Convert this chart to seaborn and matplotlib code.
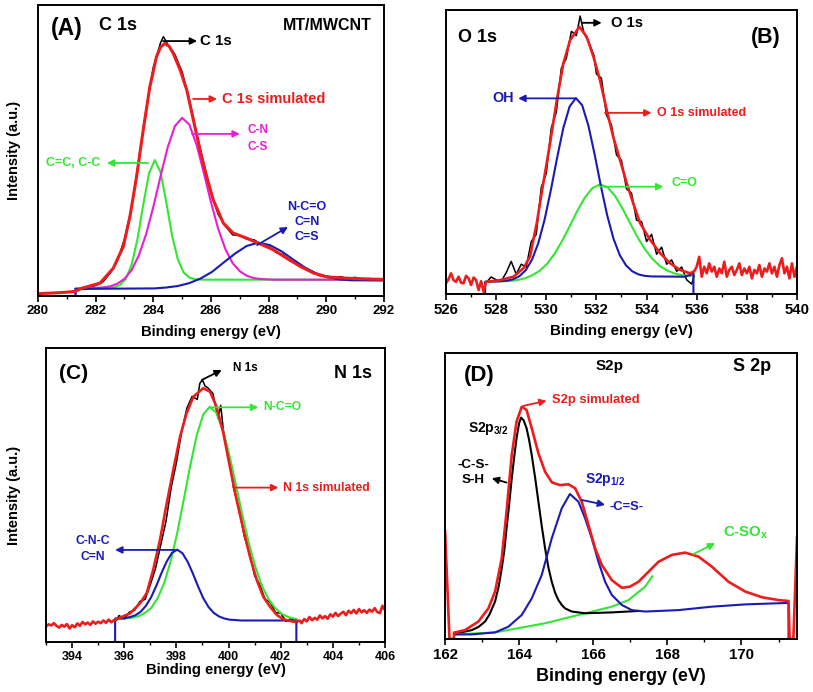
import matplotlib
matplotlib.use('Agg')
import matplotlib.pyplot as plt
import seaborn as sns

# Colours used in the XPS fits
RED = '#ee1c1c'
GREEN = '#33e633'
BLUE = '#1a1ab4'
MAGENTA = '#e81ed2'
BLACK = '#000000'

# %% Data (binding energy in eV, intensity in % of panel height)

# (A) C 1s
c1s_data_ev = [281.5, 281.75, 282.0, 282.25, 282.5, 282.75, 283.0, 283.25, 283.5, 283.75,
               284.0, 284.25, 284.35, 284.5, 284.75, 285.0, 285.25, 285.5, 285.75, 286.0,
               286.25, 286.5, 286.75, 287.0, 287.25, 287.5, 287.75, 288.0, 288.25, 288.5,
               288.75, 289.0, 289.25, 289.5, 289.75, 290.0, 290.25, 290.5, 290.75, 291.0,
               291.25, 291.5, 291.75, 292.0]
c1s_data = [2.2, 3.0, 3.6, 4.8, 7.8, 12.0, 19.5, 30.5, 47.0, 64.0,
            78.5, 87.0, 89.1, 86.5, 83.0, 77.0, 67.5, 56.0, 45.5, 35.5,
            28.0, 24.0, 21.0, 20.8, 19.5, 19.3, 17.5, 17.0, 15.0, 14.2,
            12.0, 11.2, 9.2, 8.5, 7.0, 6.9, 6.2, 6.6, 6.0, 6.4,
            5.8, 6.0, 5.6, 5.9]
c1s_fit_ev = [280.0, 280.5, 281.0, 281.3, 281.5, 282.15, 282.61, 282.96, 283.19, 283.42,
              283.65, 283.88, 284.11, 284.25, 284.40, 284.55, 284.69, 284.93, 285.16, 285.39,
              285.62, 285.85, 286.08, 286.43, 286.77, 287.23, 287.70, 288.16, 288.62, 289.09,
              289.55, 290.0, 290.5, 291.0, 291.5, 292.0]
c1s_fit = [0.8, 1.0, 1.3, 1.6, 2.6, 4.4, 9.5, 17.0, 27.3, 41.0,
           57.0, 71.9, 82.2, 85.5, 86.8, 85.8, 83.4, 77.7, 70.8, 60.5,
           50.2, 41.0, 33.0, 25.0, 21.6, 19.9, 17.9, 15.9, 13.0, 10.2,
           7.9, 6.6, 6.2, 6.0, 5.8, 5.7]
cc_ev = [281.3, 282.0, 282.65, 282.85, 283.05, 283.25, 283.45, 283.65, 283.85, 284.05,
         284.25, 284.45, 284.65, 284.85, 285.05, 285.25, 285.45, 285.8, 292.0]
cc = [2.6, 2.7, 3.0, 3.8, 5.9, 10.8, 19.5, 31.3, 42.1, 46.7,
      42.6, 32.2, 20.8, 12.6, 8.1, 6.3, 5.7, 5.6, 5.6]
cn_ev = [281.3, 281.3, 281.5, 282.25, 282.5, 282.75, 283.0, 283.25, 283.5, 283.75, 284.0,
         284.25, 284.5, 284.75, 285.0, 285.25, 285.5, 285.75, 286.0, 286.25, 286.5,
         286.75, 287.0, 287.25, 287.5, 287.75, 288.2, 292.0]
cn = [0.0, 2.5, 2.6, 2.9, 3.3, 4.2, 5.9, 8.9, 14.0, 21.2, 30.6,
      41.1, 51.1, 58.4, 61.2, 58.9, 52.0, 42.4, 32.2, 23.1, 16.1,
      11.3, 8.5, 6.9, 6.1, 5.8, 5.6, 5.6]
nco_ev = [281.3, 281.3, 282.5, 284.04, 284.44, 284.84, 285.24, 285.64, 286.04, 286.44,
          286.84, 287.24, 287.64, 288.04, 288.44, 288.84, 289.24, 289.64, 290.04, 290.44,
          290.84, 292.0]
nco = [0.0, 2.4, 2.5, 2.6, 2.9, 3.4, 4.4, 6.0, 8.3, 11.5,
       14.6, 17.2, 18.3, 17.5, 15.4, 12.6, 9.9, 7.8, 6.5, 5.7,
       5.4, 5.3]

# (B) O 1s
o1s_fit_ev = [526.0, 526.1, 526.2, 526.3, 526.4, 526.5, 526.6, 526.7, 526.8, 526.9,
              527.0, 527.1, 527.2, 527.3, 527.4, 527.5, 527.6, 528.16, 528.69, 529.09,
              529.35, 529.62, 529.88, 530.15, 530.42, 530.68, 530.95, 531.32, 531.61, 531.88,
              532.14, 532.41, 532.67, 532.94, 533.21, 533.47, 533.74, 534.14, 534.54, 534.93,
              535.33, 535.73, 535.9, 536.0, 536.1, 536.2, 536.3, 536.4, 536.5, 536.6,
              536.7, 536.8, 536.9, 537.0, 537.1, 537.2, 537.3, 537.4, 537.5, 537.6,
              537.7, 537.8, 537.9, 538.0, 538.1, 538.2, 538.3, 538.4, 538.5, 538.6,
              538.7, 538.8, 538.9, 539.0, 539.1, 539.2, 539.3, 539.4, 539.5, 539.6,
              539.7, 539.8, 539.9, 540.0]
o1s_fit = [3.8, 5.2, 7.3, 4.9, 4.3, 6.1, 4.0, 3.8, 6.4, 5.5,
           3.2, 5.8, 4.9, 1.4, 4.5, 0.8, 4.3, 4.9, 6.1, 9.1,
           13.2, 25.0, 39.0, 53.1, 68.3, 81.2, 89.4, 94.1, 90.6, 83.6,
           75.4, 64.8, 55.4, 47.2, 39.0, 31.9, 25.0, 19.1, 14.4, 10.9,
           8.5, 7.3, 8.0, 9.6, 13.1, 6.1, 9.6, 7.3, 10.8, 7.9,
           9.6, 6.1, 9.0, 7.3, 11.4, 6.1, 8.5, 9.6, 6.7, 8.5,
           10.8, 6.7, 9.0, 7.3, 9.6, 5.5, 8.5, 7.3, 10.2, 6.1,
           9.0, 7.9, 10.8, 7.3, 9.6, 6.1, 10.2, 12.6, 7.3, 9.6,
           5.5, 10.8, 6.1, 9.6]
o1s_data_ev = [527.6, 527.8, 528.0, 528.2, 528.4, 528.6, 528.8, 529.0, 529.2, 529.4,
               529.6, 529.8, 530.0, 530.2, 530.4, 530.6, 530.8, 531.0, 531.2, 531.35,
               531.5, 531.7, 531.9, 532.0, 532.2, 532.4, 532.6, 532.8, 533.0, 533.2,
               533.4, 533.6, 533.8, 534.0, 534.2, 534.4, 534.6, 534.8, 535.0, 535.2,
               535.4, 535.6, 535.8, 535.9]
o1s_data = [4.0, 6.0, 5.0, 4.5, 7.5, 11.5, 7.0, 10.5, 9.5, 18.5,
            21.0, 37.5, 42.5, 58.5, 64.0, 79.5, 83.0, 92.5, 91.0, 97.9,
            92.0, 88.5, 84.0, 77.5, 76.0, 63.0, 59.5, 49.0, 47.0, 37.0,
            35.5, 26.0, 25.5, 18.5, 21.0, 14.0, 16.5, 10.5, 12.0, 8.0,
            9.5, 5.0, 3.5, 6.5]
oh_ev = [527.56, 527.56, 528.18, 528.43, 528.68, 528.93, 529.18, 529.43, 529.68, 529.93,
         530.18, 530.43, 530.68, 530.93, 531.18, 531.43, 531.68, 531.93, 532.18, 532.43,
         532.68, 532.93, 533.18, 533.43, 533.68, 533.93, 534.18, 535.5, 535.75, 535.87,
         535.87]
oh = [0.0, 4.3, 4.5, 4.7, 5.2, 6.3, 8.4, 12.1, 17.9, 26.1,
      36.5, 47.9, 58.5, 66.0, 69.0, 66.5, 59.3, 49.1, 37.9, 27.7,
      19.5, 13.7, 10.1, 8.0, 6.9, 6.4, 6.2, 6.1, 6.8, 7.6,
      0.0]
co_ev = [527.56, 528.24, 528.54, 528.84, 529.14, 529.44, 529.74, 530.04, 530.34, 530.64,
         530.94, 531.24, 531.54, 531.84, 532.14, 532.44, 532.74, 533.04, 533.34, 533.64,
         533.94, 534.24, 534.54, 534.84, 535.14, 535.44, 535.74, 535.87]
co = [4.3, 4.5, 4.6, 4.9, 5.5, 6.6, 8.2, 10.7, 14.3, 18.8,
      24.0, 29.3, 34.0, 37.3, 38.6, 37.6, 34.6, 30.1, 25.0, 20.0,
      15.7, 12.3, 9.8, 8.2, 7.2, 6.6, 6.3, 6.5]

# (C) N 1s
n1s_fit_ev = [393.0, 393.1, 393.2, 393.3, 393.4, 393.5, 393.6, 393.7, 393.8, 393.9,
              394.0, 394.1, 394.2, 394.3, 394.4, 394.5, 394.6, 394.7, 394.8, 394.9,
              395.0, 395.1, 395.2, 395.3, 395.4, 395.5, 395.6, 395.71, 396.22, 396.61,
              396.86, 397.11, 397.37, 397.63, 397.88, 398.14, 398.39, 398.65, 399.03, 399.29,
              399.54, 399.80, 400.05, 400.31, 400.57, 400.82, 401.08, 401.33, 401.59, 401.85,
              402.10, 402.49, 402.74, 402.8, 402.9, 403.0, 403.1, 403.2, 403.3, 403.4,
              403.5, 403.6, 403.7, 403.8, 403.9, 404.0, 404.1, 404.2, 404.3, 404.4,
              404.5, 404.6, 404.7, 404.8, 404.9, 405.0, 405.1, 405.2, 405.3, 405.4,
              405.5, 405.6, 405.7, 405.8, 405.9, 406.0]
n1s_fit = [5.3, 6.0, 5.6, 6.4, 5.5, 4.9, 5.8, 5.2, 6.1, 4.6,
           5.7, 5.0, 6.3, 5.5, 6.8, 6.0, 6.6, 5.8, 7.0, 6.2,
           6.9, 6.4, 7.3, 6.5, 7.6, 6.7, 7.4, 7.8, 9.7, 13.2,
           16.6, 24.5, 34.7, 47.2, 58.5, 69.8, 77.8, 83.4, 86.3, 85.1,
           80.0, 71.0, 59.6, 48.3, 38.1, 29.0, 21.1, 15.4, 12.0, 9.2,
           7.7, 6.9, 7.2, 6.4, 7.8, 7.0, 8.5, 7.4, 8.2, 7.6,
           9.0, 8.0, 8.8, 7.9, 9.4, 8.6, 9.9, 8.8, 9.6, 10.3,
           9.1, 10.6, 9.8, 10.9, 9.7, 11.2, 10.1, 10.8, 9.9, 11.0,
           10.3, 11.5, 10.2, 9.8, 12.3, 10.8]
n1s_data_ev = [395.7, 395.8, 396.0, 396.2, 396.4, 396.6, 396.8, 397.0, 397.2, 397.4,
               397.6, 397.8, 398.0, 398.2, 398.4, 398.6, 398.8, 398.9, 399.0, 399.1,
               399.2, 399.4, 399.6, 399.7, 399.8, 400.0, 400.2, 400.4, 400.6, 400.8,
               401.0, 401.2, 401.4, 401.6, 401.8, 402.0, 402.2, 402.4, 402.6, 402.7]
n1s_data = [7.3, 9.0, 7.8, 10.2, 10.8, 13.8, 14.5, 19.5, 25.0, 33.0,
            41.0, 52.5, 61.0, 71.5, 79.5, 83.5, 82.5, 88.0, 89.1, 87.0,
            86.5, 84.5, 76.0, 80.5, 72.0, 63.5, 52.0, 45.5, 36.0, 30.5,
            22.5, 19.5, 14.5, 13.5, 10.0, 9.8, 7.0, 8.0, 6.5, 7.4]
cnc_ev = [395.65, 395.65, 395.83, 396.03, 396.23, 396.43, 396.63, 396.83, 397.03, 397.23,
          397.43, 397.63, 397.83, 398.03, 398.23, 398.43, 398.63, 398.83, 399.03, 399.23,
          399.43, 399.63, 399.83, 400.03, 400.5, 402.6, 402.6]
cnc = [0.0, 8.0, 8.0, 8.1, 8.5, 9.1, 10.3, 12.3, 15.2, 19.1,
       23.5, 27.4, 30.3, 31.4, 30.2, 27.3, 23.3, 18.9, 14.9, 11.9,
       9.9, 8.7, 8.0, 7.6, 7.3, 7.3, 0.0]
nco_n_ev = [395.71, 396.03, 396.28, 396.53, 396.78, 397.03, 397.28, 397.53, 397.78, 398.03,
            398.28, 398.53, 398.78, 399.03, 399.28, 399.53, 399.78, 400.03, 400.28, 400.53,
            400.78, 401.03, 401.28, 401.53, 401.78, 402.03, 402.28, 402.53, 402.61]
nco_n = [7.8, 8.0, 8.2, 8.7, 9.8, 11.5, 14.9, 20.0, 27.4, 37.0,
         48.3, 60.0, 70.3, 77.4, 80.0, 78.0, 72.2, 63.6, 53.5, 43.1,
         33.5, 25.5, 19.1, 14.6, 11.6, 9.6, 8.5, 7.9, 7.8]

# (D) S 2p
s2p_fit_ev = [162.0, 162.12, 162.24, 162.24, 162.27, 162.54, 162.90, 163.17, 163.35, 163.53,
              163.66, 163.80, 163.93, 164.07, 164.20, 164.34, 164.52, 164.70, 164.88, 165.10,
              165.33, 165.51, 165.69, 165.87, 166.05, 166.23, 166.50, 166.77, 166.99, 167.22,
              167.49, 167.76, 168.12, 168.48, 168.84, 169.20, 169.65, 170.10, 170.55, 171.00,
              171.27, 171.30, 171.40, 171.50]
s2p_fit = [38.0, 0.0, 0.0, 2.2, 2.3, 3.1, 6.1, 10.7, 16.6, 28.2,
           44.5, 64.3, 76.0, 81.2, 80.1, 73.7, 64.9, 58.5, 54.8, 53.8,
           54.1, 52.7, 48.0, 39.9, 31.7, 25.9, 20.6, 17.9, 18.3, 20.0,
           23.5, 27.0, 29.4, 30.2, 28.8, 25.3, 20.0, 16.6, 14.6, 13.6,
           13.3, 0.0, 0.0, 36.0]
s2p32_ev = [162.27, 162.5, 162.72, 162.9, 163.08, 163.2, 163.35, 163.45, 163.53, 163.6,
            163.66, 163.73, 163.80, 163.87, 163.93, 164.0, 164.05, 164.12, 164.20, 164.27,
            164.34, 164.43, 164.52, 164.61, 164.70, 164.79, 164.88, 164.97, 165.06, 165.15,
            165.24, 165.42, 165.78, 166.5, 167.22]
s2p32 = [2.3, 2.5, 3.1, 4.2, 6.1, 8.6, 13.1, 18.5, 24.7, 31.0,
         38.7, 47.0, 56.2, 64.0, 70.2, 75.5, 77.4, 76.5, 73.7, 69.5,
         64.3, 56.5, 48.0, 39.5, 31.7, 25.0, 20.0, 16.2, 13.6, 11.9,
         10.7, 9.6, 9.0, 9.3, 9.8]
s2p12_ev = [162.27, 162.72, 163.35, 163.71, 164.07, 164.34, 164.61, 164.88, 165.15, 165.37,
            165.60, 165.78, 165.96, 166.14, 166.32, 166.50, 166.77, 167.04, 167.40, 168.30,
            169.20, 170.10, 171.0, 171.27, 171.27]
s2p12 = [1.6, 1.6, 2.3, 4.3, 8.4, 14.2, 22.4, 35.2, 45.7, 50.7,
         48.0, 42.2, 35.2, 27.0, 20.0, 15.4, 11.9, 10.1, 9.6, 10.1,
         11.3, 12.1, 12.5, 12.6, 0.0]
csox_ev = [162.27, 163.35, 164.70, 165.60, 166.50, 166.95, 167.40, 167.6]
csox = [1.6, 2.3, 5.5, 8.4, 11.3, 13.6, 18.3, 22.0]


def curve(ax, x, y, color, lw=1.4):
    sns.lineplot(x=x, y=y, ax=ax, color=color, lw=lw, sort=False, estimator=None)


def arrow(ax, tail, head, color):
    ax.annotate('', xy=head, xytext=tail,
                arrowprops=dict(arrowstyle='-|>', color=color, lw=1.3,
                                mutation_scale=10, shrinkA=0, shrinkB=0))


def style_axis(ax, xlim, ticks, tick_size, label_size, label_y, ylabel=None, ylabel_x=None):
    ax.set_xlim(*xlim)
    ax.set_ylim(0, 100)
    ax.set_xticks(ticks)
    ax.set_xticks([t + 1 for t in ticks if t + 1 < xlim[1]], minor=True)
    ax.set_yticks([])
    ax.tick_params(axis='x', which='major', direction='out', length=4, width=1.2,
                   labelsize=tick_size, pad=2.5, top=False, colors='black')
    ax.tick_params(axis='x', which='minor', direction='out', length=2.5, width=1.0,
                   top=False, colors='black')
    for s in ax.spines.values():
        s.set_linewidth(1.4)
        s.set_color('black')
        s.set_visible(True)
    ax.set_xlabel('Binding energy (eV)', fontsize=label_size, fontweight='bold')
    ax.xaxis.set_label_coords(0.5, label_y)
    if ylabel:
        ax.set_ylabel(ylabel, fontsize=10.5, fontweight='bold')
        ax.yaxis.set_label_coords(ylabel_x, 0.5)
    else:
        ax.set_ylabel('')
    for lab in ax.get_xticklabels():
        lab.set_fontweight('bold')


sns.set_style('ticks')
plt.rcParams['font.family'] = ['Liberation Sans', 'DejaVu Sans']
plt.rcParams['font.weight'] = 'bold'
plt.rcParams['axes.labelweight'] = 'bold'
plt.rcParams['text.color'] = 'black'
plt.rcParams['axes.labelcolor'] = 'black'
plt.rcParams['mathtext.default'] = 'regular'

fig = plt.figure(figsize=(8.13, 6.92), dpi=100)
ax1 = fig.add_axes([0.0467, 0.5723, 0.4256, 0.4205])
ax2 = fig.add_axes([0.5486, 0.5751, 0.4317, 0.4104])
ax3 = fig.add_axes([0.0566, 0.0723, 0.4170, 0.4249])
ax4 = fig.add_axes([0.5474, 0.0766, 0.4330, 0.4133])

# %% (A) C 1s
curve(ax1, c1s_data_ev, c1s_data, BLACK, 1.1)
curve(ax1, cc_ev, cc, GREEN, 1.5)
curve(ax1, cn_ev, cn, MAGENTA, 1.5)
curve(ax1, nco_ev, nco, BLUE, 1.5)
curve(ax1, c1s_fit_ev, c1s_fit, RED, 2.2)
style_axis(ax1, (280, 292), list(range(280, 293, 2)), 9.5, 10.7, -0.1, 'Intensity (a.u.)', -0.05)
ax1.text(281.0, 92, '(A)', fontsize=16.5, ha='center', va='center')
ax1.text(282.77, 93, 'C 1s', fontsize=13, ha='center', va='center')
ax1.text(291.58, 93, 'MT/MWCNT', fontsize=11.5, ha='right', va='center')
arrow(ax1, (284.34, 87.6), (285.52, 87.6), BLACK)
ax1.text(285.62, 87.6, 'C 1s', fontsize=10.8, va='center')
arrow(ax1, (285.38, 67.7), (286.21, 67.7), RED)
ax1.text(286.38, 67.7, 'C 1s simulated', fontsize=10.5, color=RED, va='center')
arrow(ax1, (285.34, 55.7), (287.0, 55.7), MAGENTA)
ax1.text(287.63, 54.1, 'C-N\nC-S', fontsize=8.5, color=MAGENTA, ha='center', va='center',
         linespacing=1.5)
arrow(ax1, (283.82, 45.7), (282.39, 45.7), GREEN)
ax1.text(282.15, 45.7, 'C=C, C-C', fontsize=9, color=GREEN, ha='right', va='center')
arrow(ax1, (287.6, 17.5), (288.67, 23.7), BLUE)
ax1.text(289.33, 25.4, 'N-C=O\nC=N\nC=S', fontsize=9, color=BLUE, ha='center', va='center',
         linespacing=1.3)

# %% (B) O 1s
curve(ax2, o1s_data_ev, o1s_data, BLACK, 1.1)
curve(ax2, co_ev, co, GREEN, 1.5)
curve(ax2, oh_ev, oh, BLUE, 1.5)
curve(ax2, o1s_fit_ev, o1s_fit, RED, 1.9)
style_axis(ax2, (526, 540), list(range(526, 541, 2)), 10.8, 10.9, -0.106)
ax2.text(526.48, 90.5, 'O 1s', fontsize=13, ha='left', va='center')
ax2.text(538.76, 90.5, '(B)', fontsize=15.5, ha='center', va='center')
arrow(ax2, (531.41, 95.5), (532.21, 95.5), BLACK)
ax2.text(532.57, 95.5, 'O 1s', fontsize=10.6, va='center')
arrow(ax2, (531.15, 68.9), (528.88, 68.9), BLUE)
ax2.text(528.69, 68.9, 'OH', fontsize=10.4, color=BLUE, ha='right', va='center')
arrow(ax2, (532.34, 63.8), (534.2, 63.8), RED)
ax2.text(534.4, 63.8, 'O 1s simulated', fontsize=9, color=RED, va='center')
arrow(ax2, (532.14, 37.8), (534.67, 37.8), GREEN)
ax2.text(535.0, 39.2, 'C=O', fontsize=9, color=GREEN, va='center')

# %% (C) N 1s
curve(ax3, n1s_data_ev, n1s_data, BLACK, 1.1)
curve(ax3, nco_n_ev, nco_n, GREEN, 1.5)
curve(ax3, cnc_ev, cnc, BLUE, 1.5)
curve(ax3, n1s_fit_ev, n1s_fit, RED, 1.9)
style_axis(ax3, (393, 406), list(range(394, 407, 2)), 9, 10.7, -0.071, 'Intensity (a.u.)', -0.074)
ax3.set_xticks([393, 395, 397, 399, 401, 403, 405], minor=True)
ax3.text(394.07, 91.4, '(C)', fontsize=15, ha='center', va='center')
ax3.text(405.5, 91.4, 'N 1s', fontsize=13, ha='right', va='center')
arrow(ax3, (398.97, 89.1), (399.74, 92.5), BLACK)
ax3.text(400.18, 93.1, 'N 1s', fontsize=8.5, va='center')
arrow(ax3, (399.35, 79.8), (401.14, 79.8), GREEN)
ax3.text(401.33, 79.8, 'N-C=O', fontsize=8.7, color=GREEN, va='center')
arrow(ax3, (400.18, 52.5), (401.91, 52.5), RED)
ax3.text(402.07, 52.5, 'N 1s simulated', fontsize=8.8, color=RED, va='center')
arrow(ax3, (397.95, 31.3), (395.65, 31.3), BLUE)
ax3.text(394.81, 31.6, 'C-N-C\nC=N', fontsize=8.7, color=BLUE, ha='center', va='center',
         linespacing=1.5)

# %% (D) S 2p
curve(ax4, csox_ev, csox, GREEN, 1.5)
curve(ax4, s2p32_ev, s2p32, BLACK, 1.5)
curve(ax4, s2p12_ev, s2p12, BLUE, 1.5)
curve(ax4, s2p_fit_ev, s2p_fit, RED, 1.9)
style_axis(ax4, (162, 171.5), list(range(162, 171, 2)), 10.8, 13, -0.101)
ax4.set_xticks([163, 165, 167, 169, 171], minor=True)
ax4.text(162.92, 92.3, '(D)', fontsize=16, ha='center', va='center')
ax4.text(166.43, 95.5, 'S2p', fontsize=11, ha='center', va='center')
ax4.text(170.8, 95.2, 'S 2p', fontsize=13, ha='right', va='center')
arrow(ax4, (164.11, 81.5), (164.74, 83.3), RED)
ax4.text(164.88, 83.6, 'S2p simulated', fontsize=9.4, color=RED, va='center')
ax4.text(163.17, 73.7, 'S2p$_{3/2}$', fontsize=10, ha='center', va='center')
ax4.text(162.76, 58.2, '-C-S-\nS-H', fontsize=9.6, ha='center', va='center', linespacing=1.4)
arrow(ax4, (163.66, 54.7), (163.26, 56.2), BLACK)
ax4.text(166.32, 55.6, 'S2p$_{1/2}$', fontsize=10, color=BLUE, ha='center', va='center')
arrow(ax4, (165.69, 48.6), (166.32, 46.9), BLUE)
ax4.text(166.45, 46.3, '-C=S-', fontsize=9.4, color=BLUE, va='center')
arrow(ax4, (168.70, 29.7), (169.29, 33.5), GREEN)
ax4.text(169.51, 37.0, 'C-SO$_x$', fontsize=10.8, color=GREEN, va='center')

fig.savefig('out.png', dpi=100)
